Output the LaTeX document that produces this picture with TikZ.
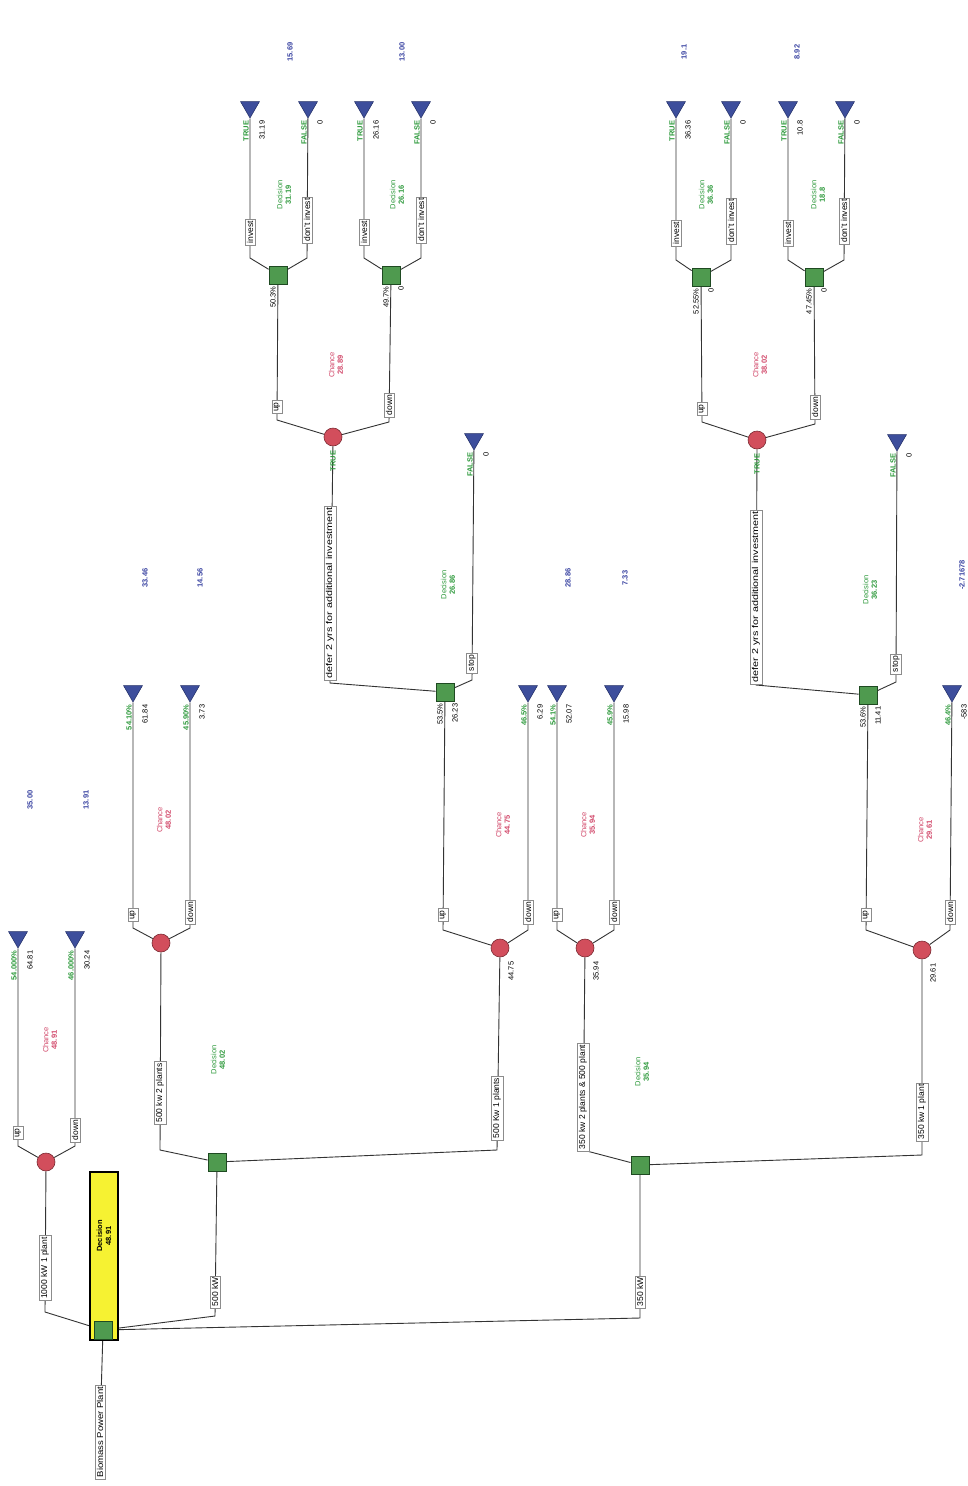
\documentclass[tikz,border=0pt]{standalone}
\usepackage{fontspec}
\setmainfont{Liberation Sans}
\usetikzlibrary{shapes.geometric}
\pgfdeclarelayer{bg}
\pgfsetlayers{bg,main}

\definecolor{decfill}{HTML}{4F9A4F}
\definecolor{decedge}{HTML}{1F4A22}
\definecolor{chfill}{HTML}{D24E5C}
\definecolor{chedge}{HTML}{7A2A32}
\definecolor{tfill}{HTML}{3D4E9C}
\definecolor{tedge}{HTML}{232F66}
\definecolor{gtext}{HTML}{2E9A3C}
\definecolor{rtext}{HTML}{D2486A}
\definecolor{btext}{HTML}{3A44A2}
\definecolor{ybfill}{HTML}{F6F232}

\tikzset{
  edge/.style={draw=black!80, line width=0.9pt},
  dec/.style={rectangle, draw=decedge, fill=decfill, minimum size=18pt, inner sep=0pt, line width=0.8pt},
  chance/.style={circle, draw=chedge, fill=chfill, minimum size=18pt, inner sep=0pt, line width=0.6pt},
  term/.style={regular polygon, regular polygon sides=3, shape border rotate=180,
    draw=tedge, fill=tfill, minimum size=22pt, inner sep=0pt, line width=0.5pt},
  lbl/.style={rectangle, draw=black!45, fill=white, rotate=90, inner sep=1.8pt,
    font=\fontsize{8.5}{9}\selectfont},
  small/.style={rotate=90, inner sep=0.5pt, font=\fontsize{7.5}{8.5}\selectfont},
  pct/.style={small, anchor=east, text=gtext, font=\fontsize{7.5}{8.5}\selectfont\bfseries},
  val/.style={small, anchor=east, text=black},
  dtxt/.style={small, align=center, text=gtext},
  ctxt/.style={small, align=center, text=rtext},
  pay/.style={small, text=btext, font=\fontsize{7.5}{8.5}\selectfont\bfseries},
  ybox/.style={rectangle, rotate=90, draw=black, line width=1.3pt, fill=ybfill,
    minimum width=168pt, minimum height=28pt},
}

% terminal node: name, x, y of tip, green text, black text
\newcommand{\termnode}[5]{%
  \node[term] (#1) at (#2,#3-11) {};
  \node[pct] (#1p) at (#2-4,#3+2) {#4};
  \node[val] (#1v) at (#2+12,#3+2) {#5};}
% texts under a decision square: name, x, y, first, second
\newcommand{\undersq}[5]{%
  \node[val] (#1p) at (#2-5,#3+11) {#4};
  \node[val] (#1v) at (#2+10,#3+11) {#5};}
% wide label text
\newcommand{\widetext}[2]{\scalebox{#1}[1]{#2}}

\begin{document}
\begin{tikzpicture}[x=1pt,y=-1pt]
\useasboundingbox (0,0) rectangle (968,1486);
\begin{pgfonlayer}{bg}
\fill[white] (0,0) rectangle (968,1486);
\end{pgfonlayer}

% ---------- root ----------
\node[lbl] (rootlbl) at (100,1432) {\widetext{1.12}{Biomass Power Plant}};
\node[ybox] (ybox) at (104,1256) {};
\node[small, align=center, font=\fontsize{7.5}{9}\selectfont\bfseries] (yboxtxt) at (104,1236) {Decision\\48.91};
\node[dec] (sq0) at (103,1330) {};

% ---------- 1000 kW ----------
\coordinate (bA) at (45,1312);
\node[chance] (ch1) at (46,1162) {};
\node[lbl] (lblA) at (45,1268) {1000 kW 1 plant};
\node[ctxt] (ch1t) at (50,1040) {Chance\\\textbf{48.91}};
\coordinate (b1u) at (18,1146);
\coordinate (b1d) at (75,1146);
\node[lbl] (l1u) at (18,1133) {up};
\node[lbl] (l1d) at (75,1130) {down};
\termnode{t1u}{18}{948}{54.000\%}{64.81}
\termnode{t1d}{75}{948}{46.000\%}{30.24}
\node[pay] (p1u) at (30,800) {35.00};
\node[pay] (p1d) at (86,800) {13.91};

% ---------- 500 kW ----------
\coordinate (bB) at (215,1316);
\node[dec] (dB) at (217,1162) {};
\node[lbl] (lblB) at (215,1292) {500 kW};
\node[dtxt] (dBt) at (218,1060) {Decision\\\textbf{48.02}};

\coordinate (bB1) at (160,1150);
\node[chance] (ch2) at (161,943) {};
\node[lbl] (lblB1) at (160,1093) {500 kw 2 plants};
\node[ctxt] (ch2t) at (164,820) {Chance\\\textbf{48.02}};
\coordinate (b2u) at (133,928);
\coordinate (b2d) at (190,928);
\node[lbl] (l2u) at (133,915) {up};
\node[lbl] (l2d) at (190,912) {down};
\termnode{t2u}{133}{702}{54.10\%}{61.84}
\termnode{t2d}{190}{702}{45.90\%}{3.73}
\node[pay] (p2u) at (145,578) {33.46};
\node[pay] (p2d) at (200,578) {14.56};

\coordinate (bB2) at (497,1150);
\node[chance] (ch3) at (500,948) {};
\node[lbl] (lblB2) at (497,1108) {500 Kw 1 plants};
\node[val] (ch3v) at (511,961) {44.75};
\node[ctxt] (ch3t) at (503,825) {Chance\\\textbf{44.75}};
\coordinate (b3u) at (443,930);
\coordinate (b3d) at (528,930);
\node[lbl] (l3u) at (443,915) {up};
\node[lbl] (l3d) at (528,912) {down};
\node[dec] (dC) at (445,692) {};
\undersq{dCu}{445}{692}{53.5\%}{26.23}
\termnode{t3d}{528}{702}{46.5\%}{6.29}

% defer branch under 500 kW 1 plant
\coordinate (bC1) at (330,683);
\node[chance] (ch4) at (333,437) {};
\node[lbl] (lblC1) at (330,593) {\widetext{1.27}{defer 2 yrs for additional investment}};
\node[pct] (ch4true) at (333,450) {TRUE};
\coordinate (bC2) at (472,680);
\node[lbl] (lblC2) at (472,663) {stop};
\termnode{t4}{474}{450}{FALSE}{0}
\node[dtxt] (dCt) at (448,585) {Decision\\\textbf{26.86}};

\node[ctxt] (ch4t) at (336,365) {Chance\\\textbf{28.89}};
\coordinate (b4u) at (277,420);
\coordinate (b4d) at (389,422);
\node[lbl] (l4u) at (277,407) {up};
\node[lbl] (l4d) at (389,405) {down};
\node[dec] (dD1) at (278,275) {};
\node[dec] (dD2) at (391,275) {};
\node[val] (dD1p) at (273,286) {50.3\%};
\undersq{dD2u}{391}{275}{49.7\%}{0}

\coordinate (bD1a) at (250,258);
\coordinate (bD1b) at (307,258);
\node[lbl] (lD1a) at (250,232) {invest};
\node[lbl] (lD1b) at (307,220) {don't invest};
\termnode{tD1a}{250}{118}{TRUE}{31.19}
\termnode{tD1b}{308}{118}{FALSE}{0}
\node[dtxt] (dD1t) at (284,195) {Decision\\\textbf{31.19}};

\coordinate (bD2a) at (364,258);
\coordinate (bD2b) at (421,258);
\node[lbl] (lD2a) at (364,232) {invest};
\node[lbl] (lD2b) at (421,220) {don't invest};
\termnode{tD2a}{364}{118}{TRUE}{26.16}
\termnode{tD2b}{421}{118}{FALSE}{0}
\node[dtxt] (dD2t) at (397,195) {Decision\\\textbf{26.16}};
\node[pay] (pD1) at (290,52) {15.69};
\node[pay] (pD2) at (402,52) {13.00};

% ---------- 350 kW ----------
\coordinate (bC) at (640,1318);
\node[dec] (dE) at (640,1165) {};
\node[lbl] (lblC) at (640,1292) {350 kW};
\node[dtxt] (dEt) at (642,1072) {Decision\\\textbf{35.94}};

\coordinate (bE1) at (583,1150);
\node[chance] (ch5) at (585,948) {};
\node[lbl] (lblE1) at (583,1097) {350 kw 2 plants \& 500 plant};
\node[val] (ch5v) at (596,961) {35.94};
\node[ctxt] (ch5t) at (588,825) {Chance\\\textbf{35.94}};
\coordinate (b5u) at (557,930);
\coordinate (b5d) at (614,930);
\node[lbl] (l5u) at (557,915) {up};
\node[lbl] (l5d) at (614,912) {down};
\termnode{t5u}{557}{702}{54.1\%}{52.07}
\termnode{t5d}{614}{702}{45.9\%}{15.98}
\node[pay] (p5u) at (568,578) {28.86};
\node[pay] (p5d) at (625,578) {7.33};

\coordinate (bE2) at (922,1155);
\node[chance] (ch6) at (922,950) {};
\node[lbl] (lblE2) at (922,1112) {350 kw 1 plant};
\node[val] (ch6v) at (933,963) {29.61};
\node[ctxt] (ch6t) at (925,830) {Chance\\\textbf{29.61}};
\coordinate (b6u) at (866,930);
\coordinate (b6d) at (950,930);
\node[lbl] (l6u) at (866,915) {up};
\node[lbl] (l6d) at (950,912) {down};
\node[dec] (dF) at (868,695) {};
\undersq{dFu}{868}{695}{53.6\%}{11.41}
\termnode{t6d}{952}{702}{46.4\%}{-583}
\node[pay] (p6d) at (962,575) {-2.71678};

% defer branch under 350 kw 1 plant
\coordinate (bF1) at (756,685);
\node[chance] (ch7) at (757,440) {};
\node[lbl] (lblF1) at (756,597) {\widetext{1.27}{defer 2 yrs for additional investment}};
\node[pct] (ch7true) at (757,453) {TRUE};
\coordinate (bF2) at (896,682);
\node[lbl] (lblF2) at (896,664) {stop};
\termnode{t7}{897}{451}{FALSE}{0}
\node[dtxt] (dFt) at (870,590) {Decision\\\textbf{36.23}};

\node[ctxt] (ch7t) at (760,365) {Chance\\\textbf{38.02}};
\coordinate (b7u) at (702,422);
\coordinate (b7d) at (815,424);
\node[lbl] (l7u) at (702,409) {up};
\node[lbl] (l7d) at (815,407) {down};
\node[dec] (dG1) at (701,277) {};
\node[dec] (dG2) at (814,277) {};
\undersq{dG1u}{701}{277}{52.55\%}{0}
\undersq{dG2u}{814}{277}{47.45\%}{0}

\coordinate (bG1a) at (676,260);
\coordinate (bG1b) at (731,260);
\node[lbl] (lG1a) at (676,233) {invest};
\node[lbl] (lG1b) at (731,221) {don't invest};
\termnode{tG1a}{676}{118}{TRUE}{36.36}
\termnode{tG1b}{731}{118}{FALSE}{0}
\node[dtxt] (dG1t) at (706,195) {Decision\\\textbf{36.36}};

\coordinate (bG2a) at (788,260);
\coordinate (bG2b) at (844,260);
\node[lbl] (lG2a) at (788,233) {invest};
\node[lbl] (lG2b) at (844,221) {don't invest};
\termnode{tG2a}{788}{118}{TRUE}{10.8}
\termnode{tG2b}{845}{118}{FALSE}{0}
\node[dtxt] (dG2t) at (818,195) {Decision\\\textbf{18.8}};
\node[pay] (pG1) at (684,52) {19.1};
\node[pay] (pG2) at (797,52) {8.92};

% ---------- connectors ----------
\begin{pgfonlayer}{bg}
\draw[edge] (rootlbl) -- (sq0);
\draw[edge] (sq0) -- (bA) -- (ch1);
\draw[edge] (sq0) -- (bB) -- (dB);
\draw[edge] (sq0) -- (bC) -- (dE);
\draw[edge] (ch1) -- (b1u) -- (t1u);
\draw[edge] (ch1) -- (b1d) -- (t1d);
\draw[edge] (dB) -- (bB1) -- (ch2);
\draw[edge] (dB) -- (bB2) -- (ch3);
\draw[edge] (ch2) -- (b2u) -- (t2u);
\draw[edge] (ch2) -- (b2d) -- (t2d);
\draw[edge] (ch3) -- (b3u) -- (dC);
\draw[edge] (ch3) -- (b3d) -- (t3d);
\draw[edge] (dC) -- (bC1) -- (ch4);
\draw[edge] (dC) -- (bC2) -- (t4);
\draw[edge] (ch4) -- (b4u) -- (dD1);
\draw[edge] (ch4) -- (b4d) -- (dD2);
\draw[edge] (dD1) -- (bD1a) -- (tD1a);
\draw[edge] (dD1) -- (bD1b) -- (tD1b);
\draw[edge] (dD2) -- (bD2a) -- (tD2a);
\draw[edge] (dD2) -- (bD2b) -- (tD2b);
\draw[edge] (dE) -- (bE1) -- (ch5);
\draw[edge] (dE) -- (bE2) -- (ch6);
\draw[edge] (ch5) -- (b5u) -- (t5u);
\draw[edge] (ch5) -- (b5d) -- (t5d);
\draw[edge] (ch6) -- (b6u) -- (dF);
\draw[edge] (ch6) -- (b6d) -- (t6d);
\draw[edge] (dF) -- (bF1) -- (ch7);
\draw[edge] (dF) -- (bF2) -- (t7);
\draw[edge] (ch7) -- (b7u) -- (dG1);
\draw[edge] (ch7) -- (b7d) -- (dG2);
\draw[edge] (dG1) -- (bG1a) -- (tG1a);
\draw[edge] (dG1) -- (bG1b) -- (tG1b);
\draw[edge] (dG2) -- (bG2a) -- (tG2a);
\draw[edge] (dG2) -- (bG2b) -- (tG2b);
\end{pgfonlayer}
\end{tikzpicture}
\end{document}
